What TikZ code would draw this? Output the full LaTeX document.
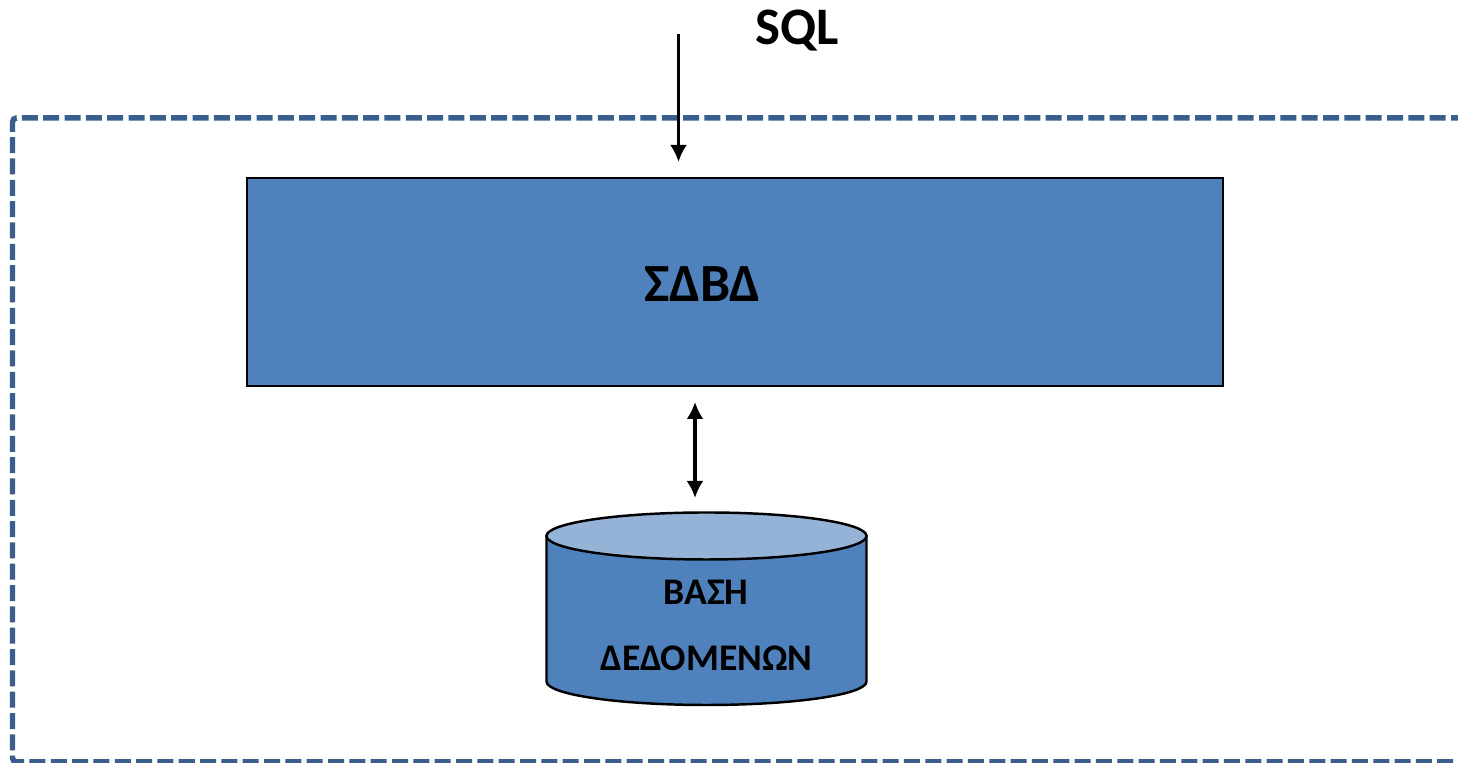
\documentclass[tikz,border=0pt]{standalone}
\usepackage{fontspec}
\setmainfont{Carlito}
\usetikzlibrary{arrows.meta}

\definecolor{dbblue}{HTML}{4F81BD}
\definecolor{dbtop}{HTML}{95B3D7}
\definecolor{dbframe}{HTML}{3A5F8F}

\tikzset{
  lbl/.style={inner sep=0pt, font=\bfseries\fontsize{10.7}{13}\selectfont},
  link/.style={line width=1pt}
}

\begin{document}
\begin{tikzpicture}[>={Latex[length=0.17cm,width=0.17cm]}]
\useasboundingbox (0,0) rectangle (14.58,7.63);
% frame, open on the right
\draw [dbframe, line width=0.055cm, dash pattern=on 0.16cm off 0.0533cm, dash phase=0.09cm, rounded corners=0.04cm] (14.58,6.45) -- (0.125,6.45) -- (0.125,0.01) -- (14.58,0.01);
\node (dbms) [draw=black, fill=dbblue, line width=0.75pt, minimum width=9.76cm, minimum height=2.08cm, inner sep=0pt] at (7.35,4.81) {};
\node (dbmslabel) [lbl, font=\bfseries\fontsize{15.3}{18}\selectfont] at (7.025,4.79) {ΣΔΒΔ};
% cylinder
\draw [fill=dbblue, line width=0.7pt] (5.465,2.27) -- (5.465,0.815) arc [start angle=180, end angle=360, x radius=1.6, y radius=0.235] -- (8.665,2.27) -- cycle;
\draw [fill=dbtop, line width=0.7pt] (7.065,2.27) ellipse [x radius=1.6, y radius=0.235];
\node (dblabela) [lbl] at (7.06,1.71) {ΒΑΣΗ};
\node (dblabelb) [lbl] at (7.065,1.05) {ΔΕΔΟΜΕΝΩΝ};
\node (sql) [lbl, font=\bfseries\fontsize{15}{18}\selectfont] at (7.97,7.32) {SQL};
\coordinate (sqlin) at (6.785,7.29);
\coordinate (sqlout) at (6.785,6.01);
\coordinate (dbup) at (6.95,3.61);
\coordinate (dbdown) at (6.95,2.65);
\draw [->, link] (sqlin) -- (sqlout);
\draw [<->, link] (dbup) -- (dbdown);
\end{tikzpicture}
\end{document}
